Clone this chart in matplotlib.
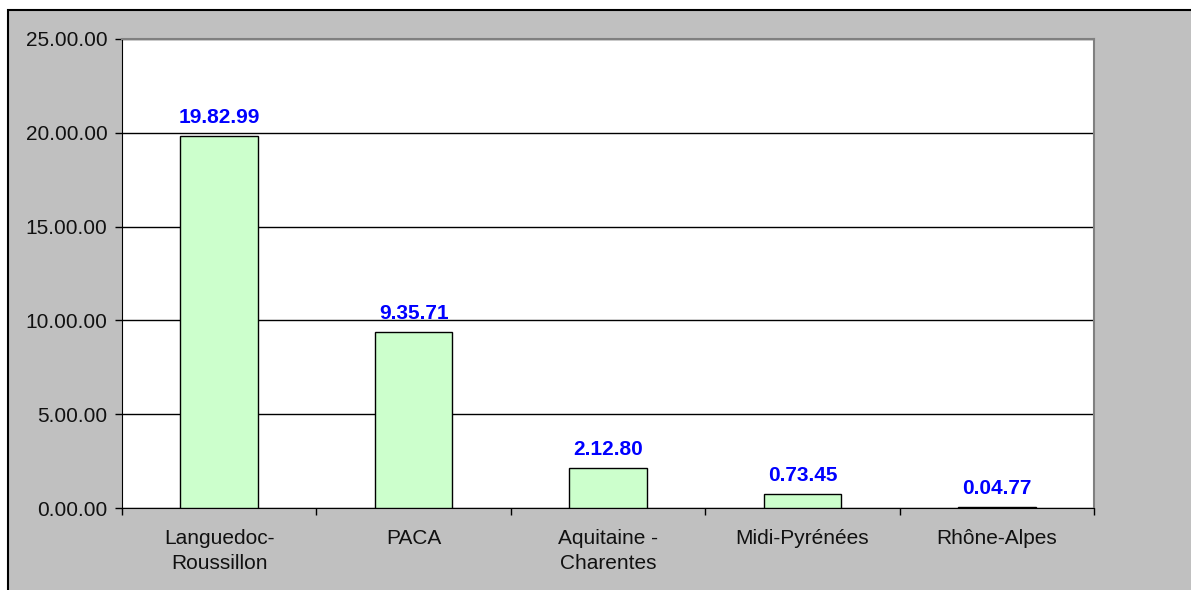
import numpy as np
import matplotlib.pyplot as plt
from matplotlib.patches import Rectangle
from matplotlib.ticker import FuncFormatter

# Values
regions = ["Languedoc-\nRoussillon", "PACA", "Aquitaine -\nCharentes",
           "Midi-Pyrénées", "Rhône-Alpes"]
values = [19.8299, 9.3571, 2.1280, 0.7345, 0.0477]
y_ticks = [0, 5, 10, 15, 20, 25]


# The source prints numbers like 19.82.99 - mimic that
def odd_format(v, pos=None):
    s = f"{v:.4f}"
    return s[:-2] + "." + s[-2:]


plt.rcParams['font.family'] = ['Liberation Sans', 'DejaVu Sans']

fig = plt.figure(figsize=(11.91, 5.90), dpi=100)
fig.patch.set_facecolor('white')

# grey chart area with black frame (right and bottom edges run off the image)
frame = Rectangle((8 / 1191, -0.5), 2.0, 1.5 - 10 / 590,
                  transform=fig.transFigure, facecolor='#c0c0c0',
                  edgecolor='black', linewidth=1.5, zorder=-10)
fig.add_artist(frame)

ax = fig.add_axes([122 / 1191, 1 - 508 / 590, 972 / 1191, 469 / 590])
ax.set_facecolor('white')

x = np.arange(len(values))
bars = ax.bar(x, values, width=0.4, color='#ccffcc', edgecolor='black',
              linewidth=1, zorder=3)

for xi, v in zip(x, values):
    ax.annotate(odd_format(v), (xi, v), xytext=(0, 6.5), textcoords='offset points',
                ha='center', va='bottom', color='#0000ff', fontweight='bold',
                fontsize=15)

ax.set_xlim(-0.5, len(values) - 0.5)
ax.set_ylim(0, 25)
ax.set_yticks(y_ticks)
ax.yaxis.set_major_formatter(FuncFormatter(odd_format))
ax.grid(axis='y', color='black', linewidth=1, zorder=1)

ax.set_xticks(x)
ax.set_xticklabels(regions, linespacing=1.4)
ax.set_xticks(np.arange(len(values) + 1) - 0.5, minor=True)
ax.tick_params(axis='x', which='major', length=0, pad=15, labelsize=15,
               labelcolor='#111111')
ax.tick_params(axis='x', which='minor', length=5, width=1, direction='out')
ax.tick_params(axis='y', length=5, width=1, pad=5.5, labelsize=15,
               labelcolor='#111111')

for side in ['top', 'right']:
    ax.spines[side].set_color('#808080')
    ax.spines[side].set_linewidth(1.5)
ax.spines['left'].set_color('black')
ax.spines['bottom'].set_color('black')

fig.savefig('out.png', dpi=100)
